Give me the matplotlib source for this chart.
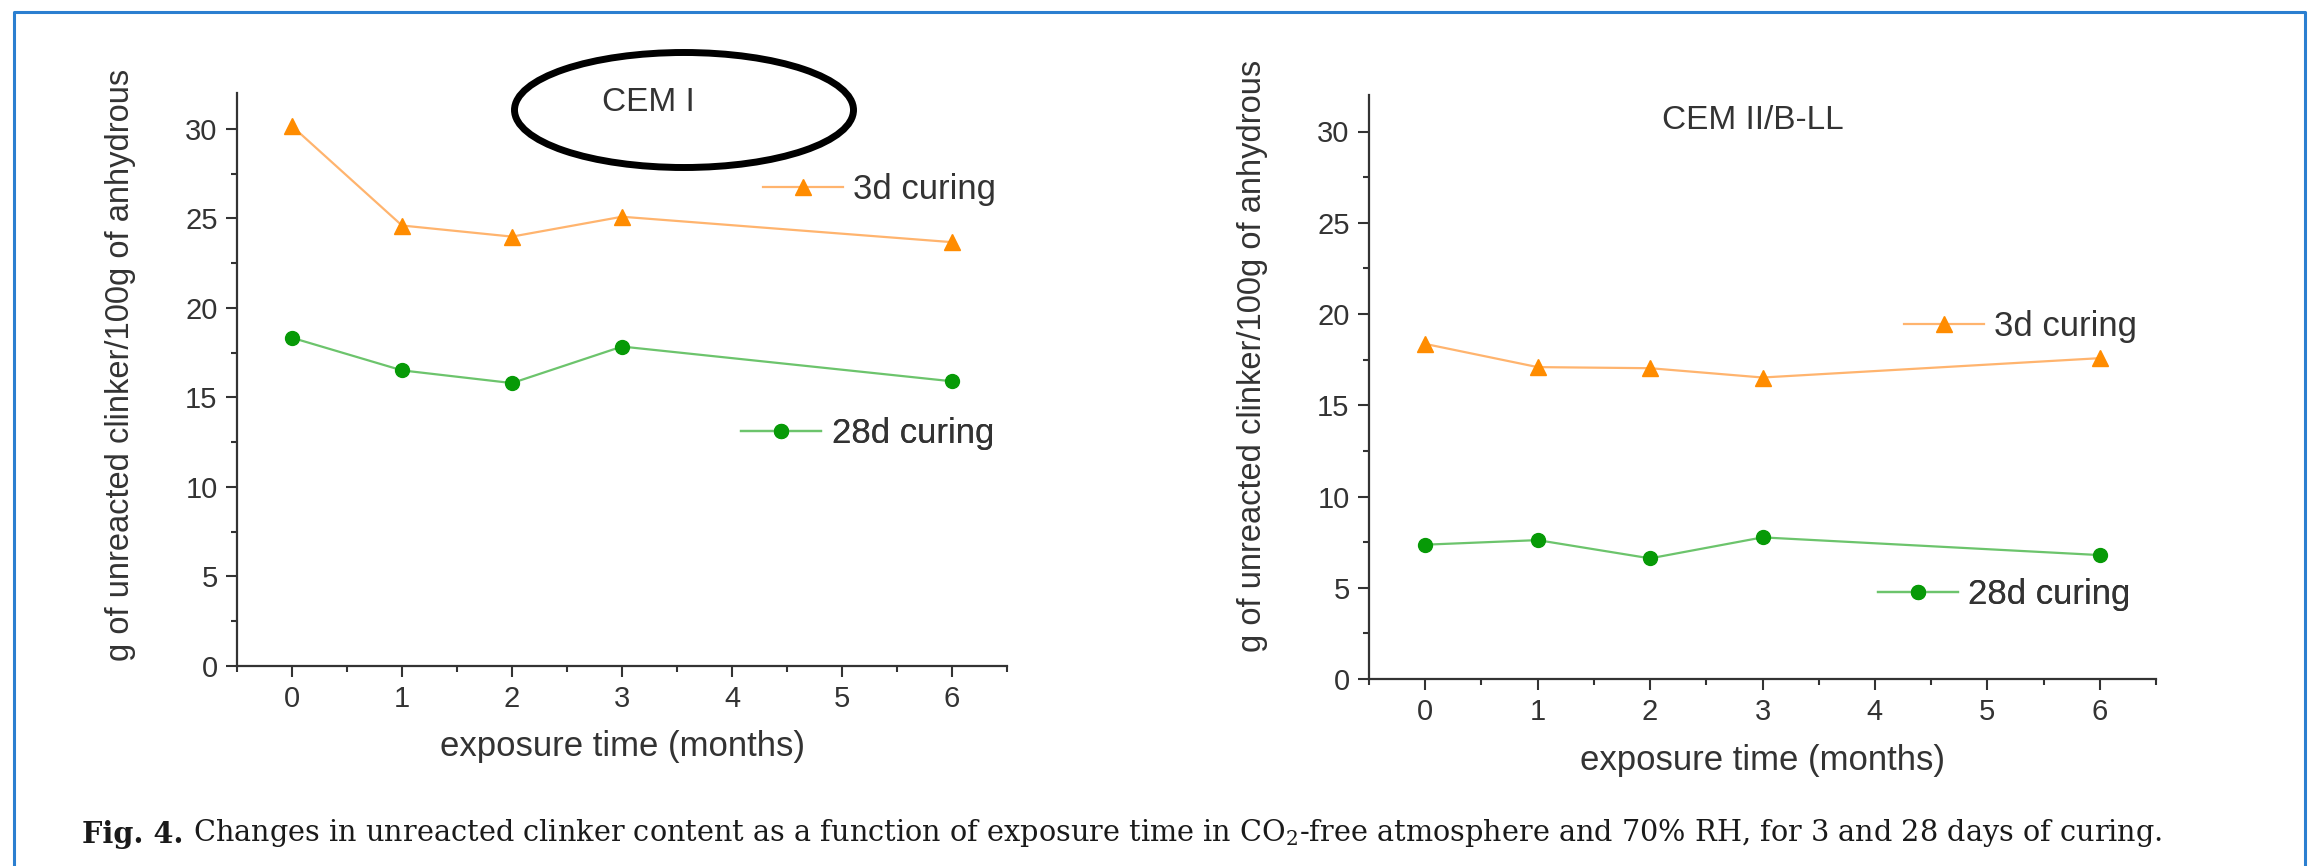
import matplotlib
matplotlib.use("Agg")
import matplotlib.pyplot as plt
from matplotlib.patches import Ellipse
from matplotlib.lines import Line2D
from matplotlib.ticker import MultipleLocator

# --- Data ---
months = [0, 1, 2, 3, 6]

cem1_3d = [30.15, 24.6, 23.98, 25.09, 23.67]
cem1_28d = [18.33, 16.51, 15.80, 17.84, 15.90]

cem2_3d = [18.36, 17.09, 17.03, 16.52, 17.58]
cem2_28d = [7.36, 7.61, 6.61, 7.76, 6.79]

x_ticks = [0, 1, 2, 3, 4, 5, 6]
y_ticks = [0, 5, 10, 15, 20, 25, 30]

# --- Style ---
plt.rcParams['font.family'] = ['Liberation Sans', 'DejaVu Sans']
plt.rcParams['mathtext.fontset'] = 'dejavuserif'
TXT = '#333333'
ORANGE_LINE, ORANGE_MK = '#ffb46e', '#ff8c00'
GREEN_LINE, GREEN_MK = '#6cc46c', '#079a07'

W, H = 2308, 866
fig = plt.figure(figsize=(W / 100, H / 100), dpi=100)


def px_axes(x0, y0, x1, y1):
    return fig.add_axes([x0 / W, 1 - y1 / H, (x1 - x0) / W, (y1 - y0) / H])


def style_axes(ax):
    ax.set_xlim(-0.5, 6.5)
    ax.set_ylim(0, 32)
    ax.set_xticks(x_ticks)
    ax.set_yticks(y_ticks)
    ax.xaxis.set_minor_locator(MultipleLocator(0.5))
    ax.yaxis.set_minor_locator(MultipleLocator(2.5))
    for s in ['top', 'right']:
        ax.spines[s].set_visible(False)
    for s in ['left', 'bottom']:
        ax.spines[s].set_linewidth(1.6)
        ax.spines[s].set_color(TXT)
    ax.tick_params(which='major', direction='out', length=8, width=1.5,
                   colors=TXT, labelsize=21, pad=6)
    ax.tick_params(which='minor', direction='out', length=4, width=1.5, colors=TXT)
    ax.set_xlabel('exposure time (months)', fontsize=25, color=TXT)
    ax.set_ylabel('g of unreacted clinker/100g of anhydrous', fontsize=23.5, color=TXT)


def draw_panel(ax, y3, y28, title, title_xy, leg3, leg28, ylab_xy):
    l3, = ax.plot(months, y3, '-', color=ORANGE_LINE, lw=1.6, marker='^', ms=11,
                  mfc=ORANGE_MK, mec=ORANGE_MK, clip_on=False)
    l28, = ax.plot(months, y28, '-', color=GREEN_LINE, lw=1.6, marker='o', ms=10,
                   mfc=GREEN_MK, mec=GREEN_MK, clip_on=False)
    style_axes(ax)
    ax.yaxis.set_label_coords(*ylab_xy)
    ax.xaxis.set_label_coords(0.5, -0.14)
    ax.xaxis.label.set_va('center')
    ax.text(title_xy[0], title_xy[1], title, transform=ax.transAxes,
            ha='center', va='center', fontsize=24, color=TXT)
    for handle, lab, pos in [(l3, '3d curing', leg3), (l28, '28d curing', leg28)]:
        leg = ax.legend([handle], [lab], loc='center right', bbox_to_anchor=pos,
                        frameon=False, fontsize=25, handlelength=2.3,
                        handletextpad=0.3, borderpad=0, borderaxespad=0,
                        labelcolor=TXT)
        ax.add_artist(leg)


ax1 = px_axes(237, 93, 1007, 666)
draw_panel(ax1, cem1_3d, cem1_28d, 'CEM I', (0.534, 0.983),
           (0.986, 0.832), (0.983, 0.405), (-0.131, 0.525))

ax2 = px_axes(1369, 95, 2156, 679)
draw_panel(ax2, cem2_3d, cem2_28d, 'CEM II/B-LL', (0.488, 0.957),
           (0.976, 0.604), (0.968, 0.144), (-0.128, 0.553))

# hand-drawn ellipse around the first title
fig.add_artist(Ellipse((684 / W, 1 - 110 / H), 339 / W, 115 / H,
                       transform=fig.transFigure, fill=False, lw=5, color='black'))

# blue page frame
frame_x = [14 / W, 14 / W, 2305 / W, 2305 / W]
frame_y = [0, 1 - 12 / H, 1 - 12 / H, 0]
fig.add_artist(Line2D(frame_x, frame_y, transform=fig.transFigure,
                      color='#2b7fd0', lw=2.2))

# caption: bold figure number followed by the plain text
CAP_SIZE = 20.7
t1 = fig.text(82 / W, 1 - 849 / H, 'Fig. 4.', fontsize=CAP_SIZE, fontweight='bold',
              family='DejaVu Serif', color='#1a1a1a', va='bottom')
fig.add_artist(plt.Annotation(
    ' Changes in unreacted clinker content as a function of exposure time in '
    'CO$_2$-free atmosphere and 70% RH, for 3 and 28 days of curing.',
    xy=(1, 0), xycoords=t1, va='bottom',
    fontsize=CAP_SIZE, family='DejaVu Serif', color='#1a1a1a'))

fig.savefig('out.png', dpi=100)
